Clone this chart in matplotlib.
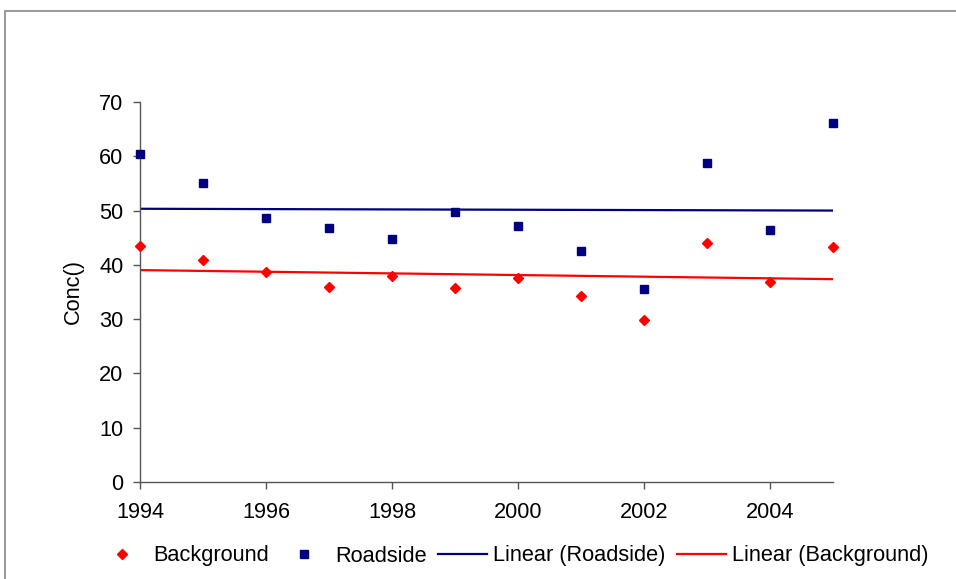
import matplotlib

matplotlib.use("Agg")
import matplotlib.pyplot as plt
import numpy as np
from matplotlib.patches import Rectangle

years = [1994, 1995, 1996, 1997, 1998, 1999, 2000, 2001, 2002, 2003, 2004, 2005]
background = [43.5, 40.9, 38.7, 36.0, 37.9, 35.8, 37.6, 34.2, 29.8, 44.0, 36.8, 43.2]
roadside = [60.5, 55.0, 48.6, 46.7, 44.8, 49.7, 47.2, 42.6, 35.6, 58.7, 46.4, 66.2]
x_ticks = [1994, 1996, 1998, 2000, 2002, 2004]
y_ticks = [0, 10, 20, 30, 40, 50, 60, 70]

plt.rcParams["font.family"] = ["Liberation Sans", "DejaVu Sans"]

fig = plt.figure(figsize=(9.56, 5.79), dpi=100)
ax = fig.add_axes([140 / 956, 1 - 482 / 579, 693 / 956, 380 / 579])

# chart area border (right/bottom edges fall outside the image)
fig.patches.append(Rectangle((4.5 / 956, -0.2), 1.2, 1.2 - 11 / 579,
                             transform=fig.transFigure, fill=False,
                             edgecolor="#9a9a9a", linewidth=1.5))

navy = "#000080"
red = "#ff0000"

ax.plot(years, background, linestyle="none", marker="D", markersize=5.6,
        color=red, label="Background", clip_on=False, zorder=4)
ax.plot(years, roadside, linestyle="none", marker="s", markersize=6,
        color=navy, label="Roadside", clip_on=False, zorder=4)

xs = np.array([years[0], years[-1]], dtype=float)
fit_r = np.polyfit(years, roadside, 1)
fit_b = np.polyfit(years, background, 1)
ax.plot(xs, np.polyval(fit_r, xs), color=navy, linewidth=1.6, label="Linear (Roadside)")
ax.plot(xs, np.polyval(fit_b, xs), color=red, linewidth=1.6, label="Linear (Background)")

ax.set_xlim(1994, 2005)
ax.set_ylim(0, 70)
ax.set_xticks(x_ticks)
ax.set_yticks(y_ticks)
ax.tick_params(direction="out", length=5, width=1, color="#555555",
               labelsize=15.7)
ax.tick_params(axis="y", pad=7)
ax.tick_params(axis="x", pad=9.5)
for side in ("top", "right"):
    ax.spines[side].set_visible(False)
for side in ("left", "bottom"):
    ax.spines[side].set_color("#555555")
    ax.spines[side].set_linewidth(1)
ax.set_ylabel("Conc()", fontsize=15.7, labelpad=11)

fig.legend(loc="center", bbox_to_anchor=(513 / 956, 1 - 556 / 579), ncol=4,
           frameon=False, fontsize=15.7, handlelength=2.25, handletextpad=0.3,
           columnspacing=0.5, markerscale=0.95, borderpad=0, borderaxespad=0)

fig.savefig("out.png", dpi=100)
